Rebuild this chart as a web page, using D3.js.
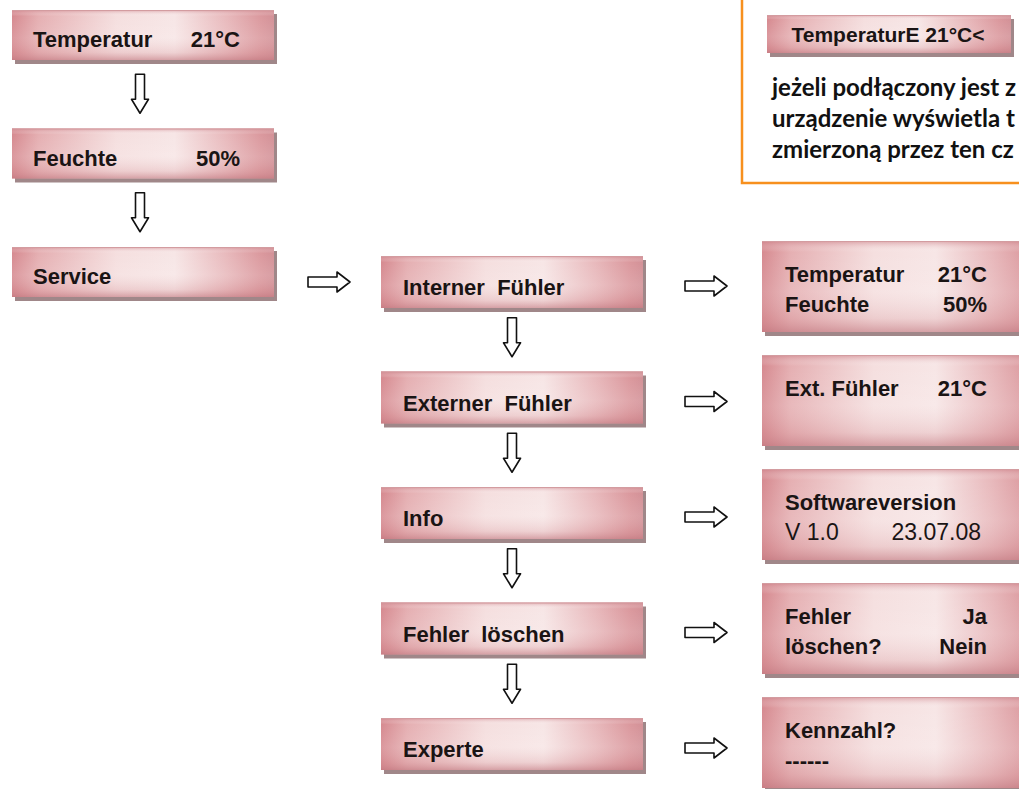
<!doctype html>
<html>
<head>
<meta charset="utf-8">
<style>
    body { margin: 0; background: #ffffff; }
    text { font-family: "Liberation Sans", Arial, sans-serif; font-weight: bold; fill: #1a1414; }
    .note { font-family: Lato, "Open Sans", sans-serif; fill: #111; }
</style>
</head>
<body>
<div id="chart"></div>
<script src="https://cdn.jsdelivr.net/npm/d3@7"></script>
<script>

// menu entries, top level (left column)
var leftLabels = ["Temperatur", "Feuchte", "Service"];
var leftValues = ["21°C", "50%", ""];

// service sub menu (middle column)
var midLabels = ["Interner  Fühler", "Externer  Fühler", "Info", "Fehler  löschen", "Experte"];

// display screens shown for each sub menu entry (right column), [left text, right text] per line
var rightScreens = [
    [["Temperatur", "21°C"], ["Feuchte", "50%"]],
    [["Ext. Fühler", "21°C"]],
    [["Softwareversion", ""], ["V 1.0", "23.07.08"]],
    [["Fehler", "Ja"], ["löschen?", "Nein"]],
    [["Kennzahl?", ""], ["------", ""]]
];

// note box, top right
var noteHeader = "TemperaturE 21°C<";
var noteLines = ["jeżeli podłączony jest z", "urządzenie wyświetla t", "zmierzoną przez ten cz"];

var width = 1019, height = 789;

var svg = d3.select("#chart").append("svg")
    .attr("width", width)
    .attr("height", height);

// box gradients
var defs = svg.append("defs");
var gH = defs.append("linearGradient").attr("id", "boxH");
[[0, "#d68a90"], [0.1, "#e5afb2"], [0.4, "#f5dfdf"], [0.62, "#f7e6e6"], [0.82, "#e8b9bc"], [0.95, "#db999e"], [1, "#d39197"]]
    .forEach(function(s) { gH.append("stop").attr("offset", s[0]).attr("stop-color", s[1]); });
var gV = defs.append("linearGradient").attr("id", "boxV").attr("x1", 0).attr("y1", 0).attr("x2", 0).attr("y2", 1);
[[0, "#c97a82", 0.55], [0.12, "#ffffff", 0.0], [0.55, "#ffffff", 0.12], [0.85, "#d08a90", 0.22], [1, "#bf747c", 0.6]]
    .forEach(function(s) { gV.append("stop").attr("offset", s[0]).attr("stop-color", s[1]).attr("stop-opacity", s[2]); });

function drawBox(g, x, y, w, h) {
    g.append("rect").attr("x", x + 3).attr("y", y + 4).attr("width", w).attr("height", h).attr("fill", "#a08789");
    g.append("rect").attr("x", x).attr("y", y).attr("width", w).attr("height", h).attr("fill", "url(#boxH)");
    g.append("rect").attr("x", x).attr("y", y).attr("width", w).attr("height", h).attr("fill", "url(#boxV)");
    g.append("line").attr("x1", x).attr("x2", x + w).attr("y1", y + 0.5).attr("y2", y + 0.5)
        .attr("stroke", "#d39ca0").attr("stroke-width", 1);
}

function arrowRight(x, y) {
    svg.append("path")
        .attr("d", "M" + x + "," + (y - 5) + "h29v-5l13,10l-13,10v-5h-29z")
        .attr("fill", "#fff").attr("stroke", "#111").attr("stroke-width", 1.6)
        .attr("stroke-linejoin", "round");
}

function arrowDown(x, y) {
    svg.append("path")
        .attr("d", "M" + (x - 4.5) + "," + y + "v25h-4l8.5,14l8.5,-14h-4v-25z")
        .attr("fill", "#fff").attr("stroke", "#111").attr("stroke-width", 1.6)
        .attr("stroke-linejoin", "round");
}

// scales for row positions
var yLeft = d3.scaleLinear().domain([0, leftLabels.length - 1]).range([10, 247]);
var yMid = d3.scaleLinear().domain([0, midLabels.length - 1]).range([256, 718]);
var yRight = d3.scaleLinear().domain([0, rightScreens.length - 1]).range([241, 697]);

var leftX = 12, leftW = 262, leftH = 50;
var midX = 381, midW = 262, midH = 52;
var rightX = 762, rightW = 280, rightH = 91;

// left column
var left = svg.append("g");
leftLabels.forEach(function(d, i) {
    var y = yLeft(i);
    drawBox(left, leftX, y, leftW, leftH);
    left.append("text").attr("x", leftX + 21).attr("y", y + 37).attr("font-size", 22).text(d);
    if (leftValues[i]) {
        left.append("text").attr("x", leftX + 228).attr("y", y + 37).attr("font-size", 22)
            .attr("text-anchor", "end").text(leftValues[i]);
    }
    if (i < leftLabels.length - 1) {
        var gapMid = (y + leftH + yLeft(i + 1)) / 2;
        arrowDown(140, gapMid - 20);
    }
});
arrowRight(308, yLeft(2) + 35);

// middle column
var mid = svg.append("g");
midLabels.forEach(function(d, i) {
    var y = yMid(i);
    drawBox(mid, midX, y, midW, midH);
    mid.append("text").attr("x", midX + 22).attr("y", y + 39).attr("font-size", 22)
        .attr("xml:space", "preserve").style("white-space", "pre").text(d);
    if (i < midLabels.length - 1) {
        var gapMid = (y + midH + yMid(i + 1)) / 2;
        arrowDown(512, gapMid - 22);
    }
    arrowRight(685, y + midH / 2 + 4);
});

// right column
var right = svg.append("g");
rightScreens.forEach(function(lines, i) {
    var y = yRight(i);
    drawBox(right, rightX, y, rightW, rightH);
    lines.forEach(function(l, j) {
        var plain = (i === 2 && j === 1);
        var fs = plain ? 23 : 22;
        right.append("text").attr("x", rightX + 23).attr("y", y + 41 + j * 30).attr("font-size", fs)
            .style("font-weight", plain ? "normal" : "bold").text(l[0]);
        if (l[1]) {
            right.append("text").attr("x", rightX + (plain ? 219 : 225)).attr("y", y + 41 + j * 30).attr("font-size", fs)
                .attr("text-anchor", "end").style("font-weight", plain ? "normal" : "bold").text(l[1]);
        }
    });
});

// note box
var note = svg.append("g");
note.append("rect").attr("x", 742).attr("y", -10).attr("width", 300).attr("height", 193)
    .attr("fill", "#fff").attr("stroke", "#f7901e").attr("stroke-width", 2.5);
drawBox(note, 767, 15, 244, 38);
note.append("text").attr("x", 888).attr("y", 42).attr("font-size", 21)
    .attr("text-anchor", "middle").text(noteHeader);
note.selectAll(".note").data(noteLines).enter().append("text")
    .attr("class", "note")
    .attr("x", 772)
    .attr("y", function(d, i) { return 96 + i * 31; })
    .attr("font-size", 24)
    .text(function(d) { return d; });

</script>
</body>
</html>
